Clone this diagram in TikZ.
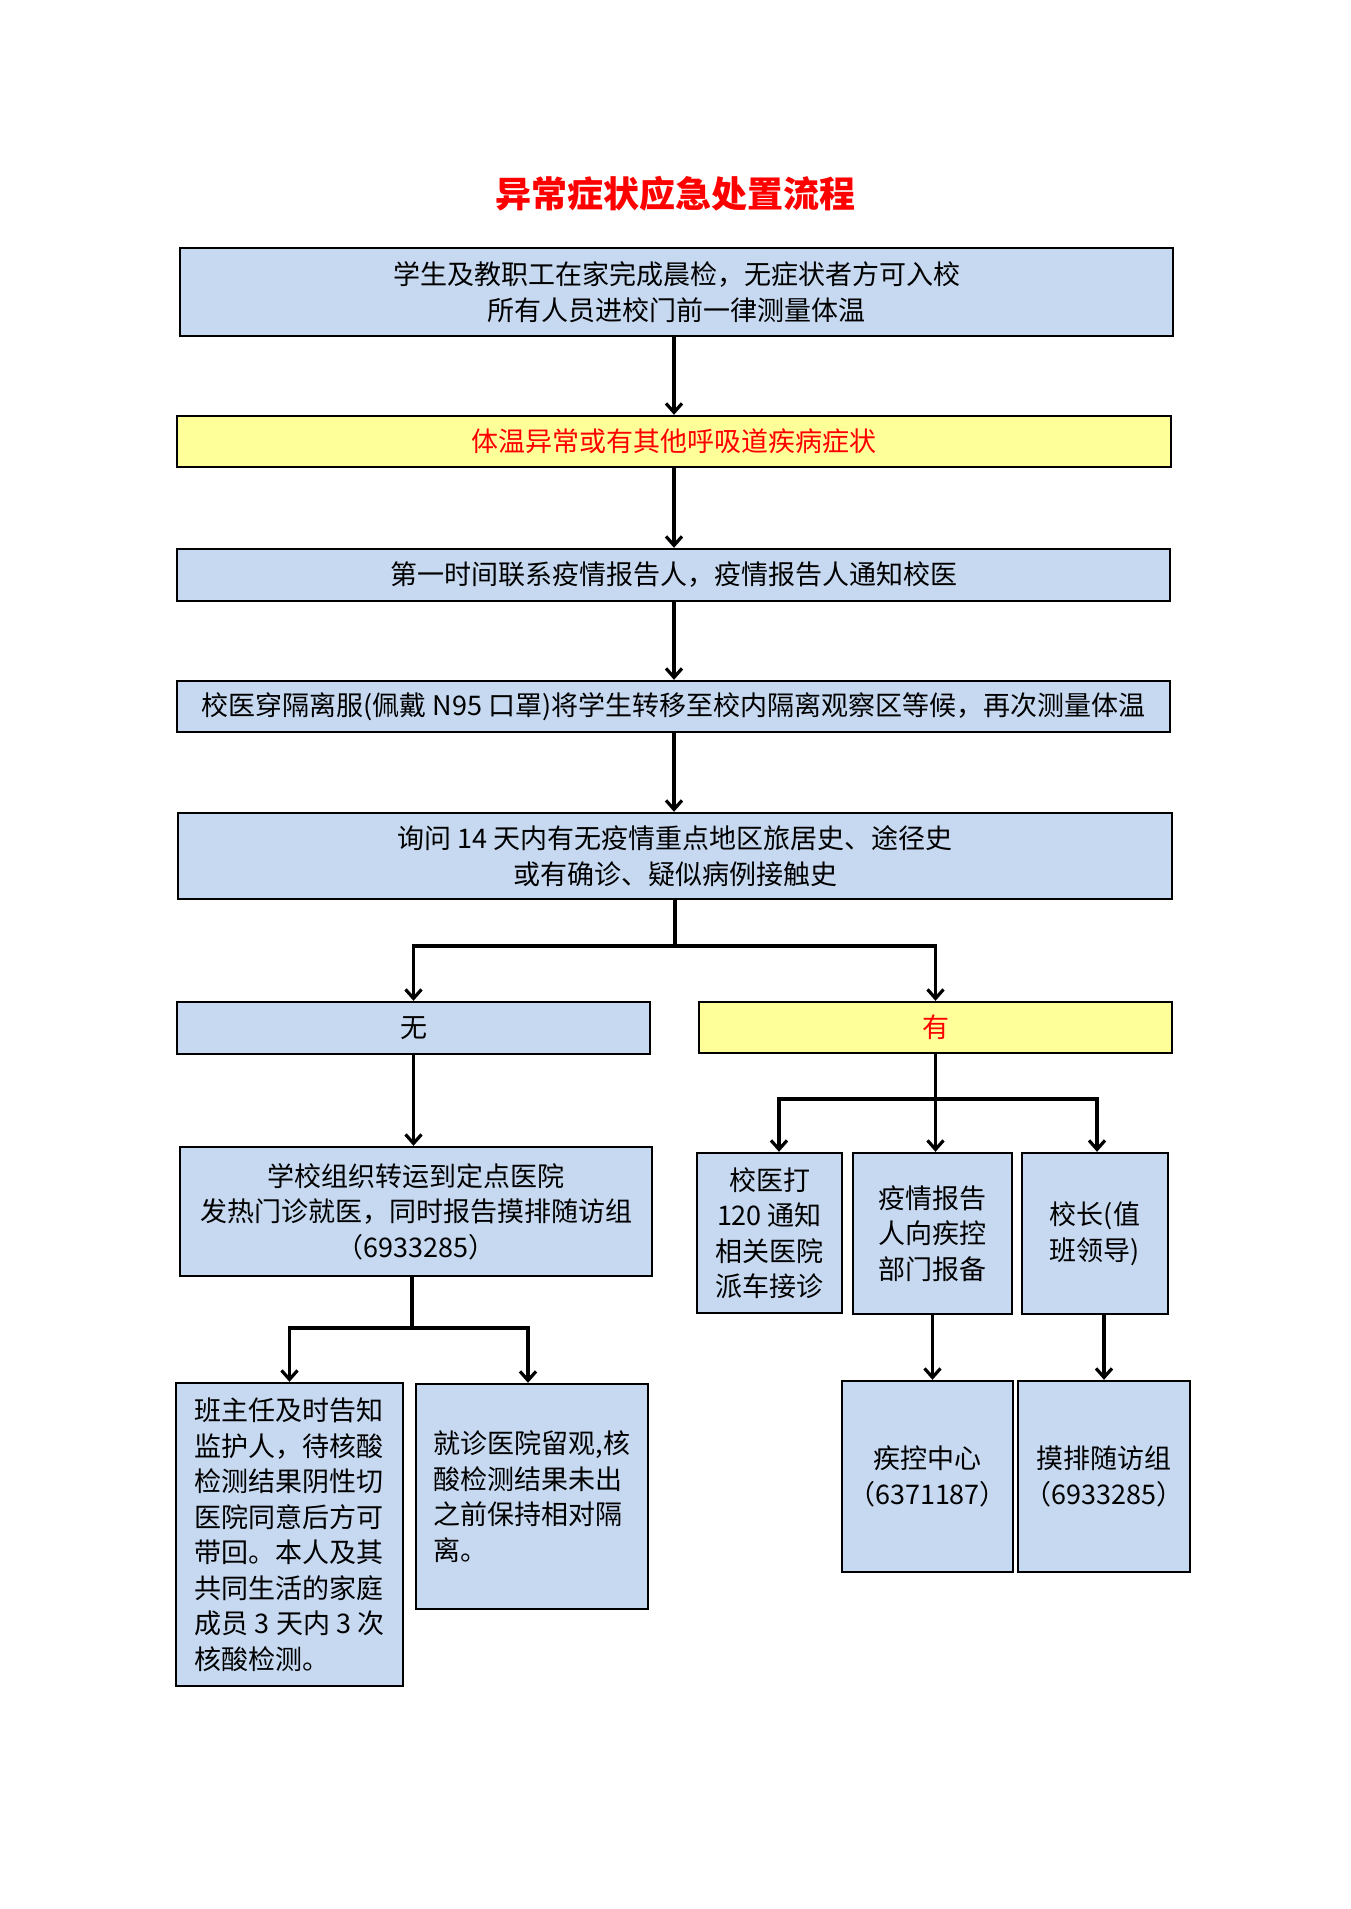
\documentclass[tikz,border=0pt]{standalone}
\usepackage{fontspec}
\setmainfont{Noto Sans CJK SC}
\usetikzlibrary{arrows.meta}
\definecolor{boxblue}{HTML}{C6D9F1}
\definecolor{boxyellow}{HTML}{FFFF99}
\definecolor{alertred}{HTML}{FF0000}
\tikzset{
  box/.style={draw=black, line width=2.4pt, fill=boxblue, inner sep=0pt, align=center,
              font=\fontsize{27}{35.5}\selectfont},
  ybox/.style={box, fill=boxyellow, text=alertred},
  lbox/.style={box, align=left},
  conn/.style={line width=3.2pt, draw=black},
  arr/.style={conn, -{Straight Barb[length=9pt,width=16pt]}},
  titlestyle/.style={text=alertred, font=\fontsize{36}{40}\selectfont\bfseries}
}
\begin{document}
\begin{tikzpicture}[x=1pt,y=-1pt]
\useasboundingbox[fill=white] (0,0) rectangle (1350,1909);

\node[titlestyle] (title) at (675,194) {异常症状应急处置流程};

\node[box, minimum width=993, minimum height=88] (b1) at (676.5,292)
  {学生及教职工在家完成晨检，无症状者方可入校\\所有人员进校门前一律测量体温};
\node[ybox, minimum width=994, minimum height=51] (b2) at (674,441.5)
  {体温异常或有其他呼吸道疾病症状};
\node[box, minimum width=993, minimum height=52] (b3) at (673.5,575)
  {第一时间联系疫情报告人，疫情报告人通知校医};
\node[box, minimum width=993, minimum height=51] (b4) at (673.5,706.5)
  {校医穿隔离服(佩戴 N95 口罩)将学生转移至校内隔离观察区等候，再次测量体温};
\node[box, minimum width=994, minimum height=86] (b5) at (675,856)
  {询问 14 天内有无疫情重点地区旅居史、途径史\\或有确诊、疑似病例接触史};

\node[box, minimum width=473, minimum height=52] (no) at (413.5,1028) {无};
\node[ybox, minimum width=473, minimum height=51] (yes) at (935.5,1027.5) {有};

\node[box, minimum width=472, minimum height=129] (school) at (416,1211.5)
  {学校组织转运到定点医院\\发热门诊就医，同时报告摸排随访组\\（6933285）};

\node[box, minimum width=145, minimum height=160] (c1) at (769.5,1233)
  {校医打\\120 通知\\相关医院\\派车接诊};
\node[box, minimum width=159, minimum height=161] (c2) at (932.5,1233.5)
  {疫情报告\\人向疾控\\部门报备};
\node[box, minimum width=146, minimum height=161] (c3) at (1095,1233.5)
  {校长(值\\班领导)};

\node[lbox, minimum width=227, minimum height=303] (d1) at (289.5,1534.5)
  {班主任及时告知\\监护人，待核酸\\检测结果阴性切\\医院同意后方可\\带回。本人及其\\共同生活的家庭\\成员 3 天内 3 次\\核酸检测。};
\node[lbox, minimum width=232, minimum height=225] (d2) at (532,1496.5)
  {就诊医院留观,核\\酸检测结果未出\\之前保持相对隔\\离。};

\node[box, minimum width=171, minimum height=191] (e1) at (927.5,1476.5)
  {疾控中心\\（6371187）};
\node[box, minimum width=172, minimum height=191] (e2) at (1104,1476.5)
  {摸排随访组\\（6933285）};

% main column
\draw[arr] (b1.south -| b2.north) -- (b2.north);
\draw[arr] (b2.south) -- (b2.south |- b3.north);
\draw[arr] (b2.south |- b3.south) -- (b2.south |- b4.north);
\draw[arr] (b2.south |- b4.south) -- (b2.south |- b5.north);

% first branching
\coordinate (j1) at (675,946);
\draw[conn] (b5.south) -- (j1);
\draw[arr] (j1) -| (no.north);
\draw[arr] (j1) -| (yes.north);

% no branch
\draw[arr] (no.south) -- (no.south |- school.north);
\coordinate (j3) at (412,1328);
\draw[conn] (school.south -| j3) -- (j3);
\draw[arr] (j3) -| (d1.north);
\draw[arr] (j3) -| ([xshift=-4]d2.north);

% yes branch
\coordinate (j2) at (935.5,1099);
\draw[arr] (yes.south) -- (yes.south |- c2.north);
\draw[arr] (j2) -| ([xshift=9.5]c1.north);
\draw[arr] (j2) -| ([xshift=2]c3.north);
\draw[arr] (c2.south) -- (c2.south |- e1.north);
\draw[arr] (e2.north |- c3.south) -- (e2.north);
\end{tikzpicture}
\end{document}
